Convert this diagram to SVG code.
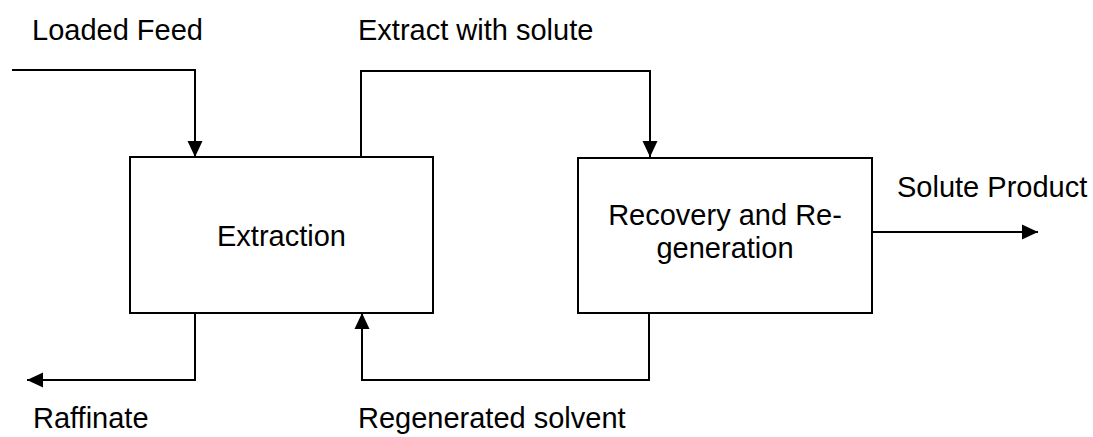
<svg xmlns="http://www.w3.org/2000/svg" width="1093" height="437" viewBox="0 0 1093 437">
<style>
.box{fill:#fff;stroke:#000;stroke-width:2}
.ln{fill:none;stroke:#000;stroke-width:2}
text{font-family:"Liberation Sans",Arial,sans-serif;font-size:29px;fill:#000}
.c{text-anchor:middle}
</style>
<defs>
<marker id="ah" viewBox="0 0 16 16" refX="16" refY="8" markerWidth="16" markerHeight="16" markerUnits="userSpaceOnUse" orient="auto">
<path d="M0,0.5 L16,8 L0,15.5 Z" fill="#000"/>
</marker>
</defs>
<rect width="1093" height="437" fill="#fff"/>
<g id="connectors">
<polyline class="ln" points="12,70 195,70 195,157" marker-end="url(#ah)"/>
<polyline class="ln" points="361,157 361,71 650,71 650,157" marker-end="url(#ah)"/>
<polyline class="ln" points="195,313 195,380 27,380" marker-end="url(#ah)"/>
<polyline class="ln" points="649,313 649,380 362,380 362,313" marker-end="url(#ah)"/>
<line class="ln" x1="872" y1="232" x2="1038" y2="232" marker-end="url(#ah)"/>
</g>
<g id="extraction">
<rect class="box" x="130" y="157" width="303" height="156"/>
<text class="c" x="281.5" y="246">Extraction</text>
</g>
<g id="recovery">
<rect class="box" x="578" y="158" width="294" height="155"/>
<text class="c" x="725" y="225">Recovery and Re-</text>
<text class="c" x="725" y="258">generation</text>
</g>
<g id="labels">
<text x="32" y="40">Loaded Feed</text>
<text x="358" y="40">Extract with solute</text>
<text x="897" y="197">Solute Product</text>
<text x="33" y="428">Raffinate</text>
<text x="358" y="428">Regenerated solvent</text>
</g>
</svg>
